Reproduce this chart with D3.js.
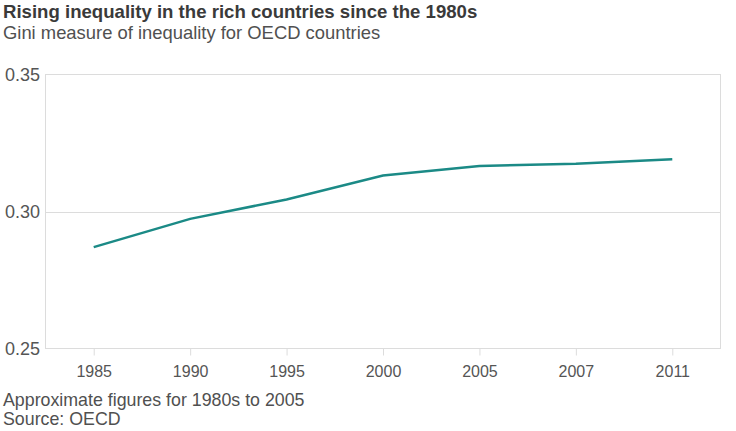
<!DOCTYPE html>
<html><head><meta charset="utf-8">
<script src="https://cdn.jsdelivr.net/npm/d3@7"></script>
<style>
body{margin:0;background:#fff;}
text{font-family:"Liberation Sans",Arial,Helvetica,sans-serif;}
</style></head>
<body>
<svg id="c" width="736" height="431"></svg>
<script>
const years = ["1985","1990","1995","2000","2005","2007","2011"];
const gini = [0.287, 0.2973, 0.3044, 0.3131, 0.3166, 0.3174, 0.3191];
const yTicks = [0.25, 0.30, 0.35];
const title = "Rising inequality in the rich countries since the 1980s";
const subtitle = "Gini measure of inequality for OECD countries";
const notes = ["Approximate figures for 1980s to 2005", "Source: OECD"];

const svg = d3.select("#c");
const L = 45.5, R = 720.5, T = 74.5, B = 348.5;
const x = d3.scalePoint().domain(years).range([L, R]).padding(0.5);
const y = d3.scaleLinear().domain([0.25, 0.35]).range([B, T]);

svg.append("text").attr("x", 3).attr("y", 18).attr("font-size", 18.6).attr("font-weight", "bold").attr("fill", "#3a3a3a").text(title);
svg.append("text").attr("x", 3).attr("y", 39).attr("font-size", 18.4).attr("fill", "#505050").text(subtitle);

// frame
svg.append("rect").attr("x", L).attr("y", T).attr("width", R - L).attr("height", B - T)
  .attr("fill", "none").attr("stroke", "#dcdcdc").attr("stroke-width", 1);

// grid
svg.append("g").selectAll("line").data(yTicks.slice(1, -1)).join("line")
  .attr("x1", L).attr("x2", R).attr("y1", d => Math.round(y(d)) + 0.5).attr("y2", d => Math.round(y(d)) + 0.5)
  .attr("stroke", "#dcdcdc");

// y labels
svg.append("g").selectAll("text").data(yTicks).join("text")
  .attr("x", 40).attr("y", d => y(d)).attr("dy", "0.35em").attr("text-anchor", "end")
  .attr("font-size", 18).attr("fill", "#555").text(d => d.toFixed(2));

// x axis
const xa = svg.append("g").attr("transform", `translate(0,${B})`)
  .call(d3.axisBottom(x).tickSize(7).tickSizeOuter(0).tickPadding(10));
xa.select(".domain").remove();
xa.selectAll(".tick line").attr("stroke", "#dcdcdc");
xa.selectAll(".tick text").attr("font-size", 16).attr("fill", "#555").attr("font-family", "Liberation Sans, Arial, sans-serif");

// line
svg.append("path").datum(years.map((yr, i) => [yr, gini[i]]))
  .attr("fill", "none").attr("stroke", "#1b8a86").attr("stroke-width", 2.5)
  .attr("d", d3.line().x(d => x(d[0])).y(d => y(d[1])));

svg.append("g").selectAll("text").data(notes).join("text")
  .attr("x", 3).attr("y", (d, i) => 406 + i * 19).attr("font-size", 17.8).attr("fill", "#505050").text(d => d);
</script>
</body></html>
